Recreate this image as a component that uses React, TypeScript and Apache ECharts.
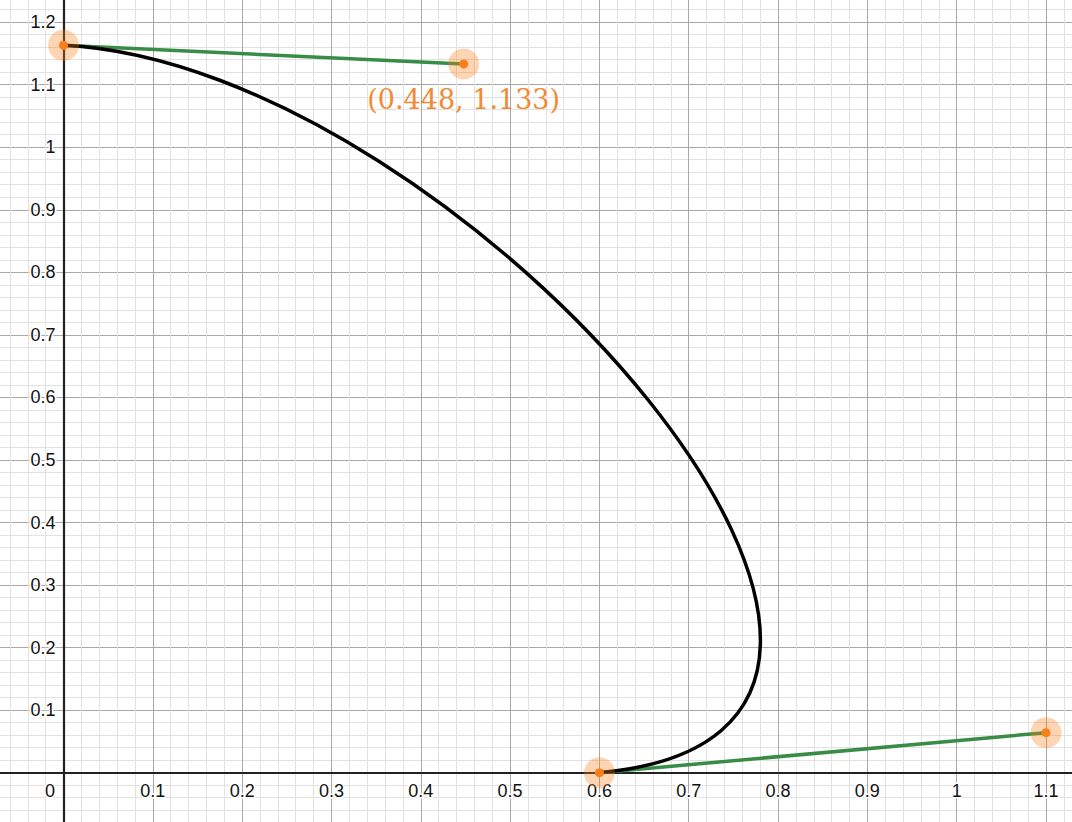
import { useEffect, useRef } from 'react';
import * as echarts from 'echarts';

// Bezier: start, two control handles, end
const startPoint = [0, 1.163];
const handle1 = [0.448, 1.133];
const handle2 = [1.1, 0.064];
const endPoint = [0.6, 0];

const labelledPoints = [handle1];

const ORANGE = '#fa7e19';
const GREEN = '#388c46';

const fmtTick = (v: number) => {
    if (v < 0) return '';
    if (Math.abs(v) < 1e-9) return '';
    return String(parseFloat(v.toFixed(2)));
};

export default function App() {
    const chartRef = useRef<HTMLDivElement>(null);

    useEffect(() => {
        if (!chartRef.current) return;
        const chart = echarts.init(chartRef.current, null, { renderer: 'svg' });

        const labelStyle = {
            fontFamily: 'Liberation Sans, Arial, sans-serif',
            fontSize: 18,
            color: '#111',
            textBorderColor: '#fff',
            textBorderWidth: 3,
        };

        // grid edges sit beyond the page so that axis min/max stay multiples of 0.1
        const gridLeft = -25.8;
        const gridBottom = -13.25;
        const pageH = 822;
        const zeroX = 63.5;
        const zeroY = 772.7;

        chart.setOption({
            animation: false,
            backgroundColor: '#fff',
            grid: {
                left: gridLeft,
                right: -63.3,
                top: -40.45,
                bottom: gridBottom,
                outerBoundsMode: 'none',
                containLabel: false,
            },
            xAxis: {
                type: 'value',
                min: -0.1,
                max: 1.2,
                interval: 0.1,
                position: 'bottom',
                offset: -(pageH - gridBottom - zeroY),
                axisLine: { onZero: false, lineStyle: { color: '#222', width: 2.2 } },
                axisTick: { show: false },
                axisLabel: {
                    ...labelStyle,
                    margin: 9,
                    formatter: (v: number) => (Math.abs(v) < 1e-9 ? '{o|0}' : fmtTick(v)),
                    rich: {
                        o: { ...labelStyle, padding: [0, 27, 0, 0] },
                    },
                },
                splitLine: { show: true, lineStyle: { color: '#a8a8a8', width: 1 } },
                minorTick: { show: false, splitNumber: 5 },
                minorSplitLine: { show: true, lineStyle: { color: '#e2e2e2', width: 1 } },
                z: 3,
            },
            yAxis: {
                type: 'value',
                min: -0.1,
                max: 1.3,
                interval: 0.1,
                position: 'left',
                offset: -(zeroX - gridLeft),
                axisLine: { onZero: false, lineStyle: { color: '#222', width: 2.2 } },
                axisTick: { show: false },
                axisLabel: { ...labelStyle, margin: 8, formatter: fmtTick },
                splitLine: { show: true, lineStyle: { color: '#a8a8a8', width: 1 } },
                minorTick: { show: false, splitNumber: 5 },
                minorSplitLine: { show: true, lineStyle: { color: '#e2e2e2', width: 1 } },
                z: 3,
            },
            series: [
                {
                    type: 'line',
                    data: [startPoint, handle1],
                    symbol: 'none',
                    lineStyle: { color: GREEN, width: 3.5 },
                    z: 4,
                },
                {
                    type: 'line',
                    data: [endPoint, handle2],
                    symbol: 'none',
                    lineStyle: { color: GREEN, width: 3.5 },
                    z: 4,
                },
                {
                    type: 'custom',
                    data: [[...startPoint, ...handle1, ...handle2, ...endPoint]],
                    dimensions: ['x0', 'y0', 'x1', 'y1', 'x2', 'y2', 'x3', 'y3'],
                    encode: { x: [0, 2, 4, 6], y: [1, 3, 5, 7] },
                    z: 5,
                    renderItem: (_params: any, api: any) => {
                        const p0 = api.coord([api.value(0), api.value(1)]);
                        const p1 = api.coord([api.value(2), api.value(3)]);
                        const p2 = api.coord([api.value(4), api.value(5)]);
                        const p3 = api.coord([api.value(6), api.value(7)]);
                        return {
                            type: 'bezierCurve',
                            shape: {
                                x1: p0[0], y1: p0[1],
                                cpx1: p1[0], cpy1: p1[1],
                                cpx2: p2[0], cpy2: p2[1],
                                x2: p3[0], y2: p3[1],
                            },
                            style: { stroke: '#000', lineWidth: 3.5, fill: null },
                        };
                    },
                },
                {
                    type: 'scatter',
                    data: [startPoint, handle1, endPoint, handle2],
                    symbolSize: 31,
                    itemStyle: { color: ORANGE, opacity: 0.33 },
                    z: 6,
                },
                {
                    type: 'scatter',
                    data: [startPoint, handle1, endPoint, handle2].map((p) => ({
                        value: p,
                        label: {
                            show: labelledPoints.includes(p),
                            position: 'bottom',
                            distance: 17,
                            formatter: () => `(${p[0].toFixed(3)}, ${p[1].toFixed(3)})`,
                            fontFamily: 'DejaVu Serif, serif',
                            fontSize: 27,
                            color: '#f28a34',
                        },
                    })),
                    symbolSize: 9,
                    itemStyle: { color: ORANGE, opacity: 1 },
                    z: 7,
                },
            ],
        });

        const observer = new ResizeObserver(() => chart.resize());
        observer.observe(chartRef.current);

        return () => {
            observer.disconnect();
            chart.dispose();
        };
    }, []);

    return (
        <div
            ref={chartRef}
            style={{ position: 'fixed', left: 0, top: 0, width: '1072px', height: '822px', background: '#fff' }}
        />
    );
}
